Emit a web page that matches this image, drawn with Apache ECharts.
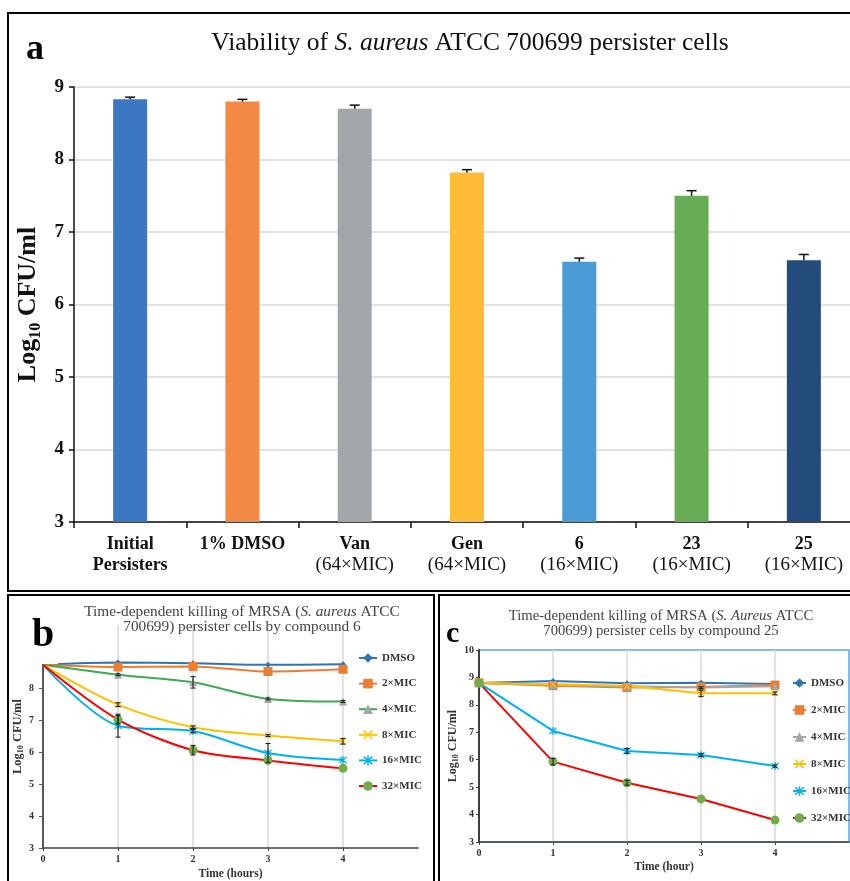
<!DOCTYPE html>
<html><head><meta charset="utf-8">
<script src="https://cdn.jsdelivr.net/npm/echarts@6/dist/echarts.min.js"></script>
<style>html,body{margin:0;padding:0;background:#fff;overflow:hidden}#c{width:870px;height:881px}</style>
</head><body><div id="c"></div>
<script>
const SERIF = "'Liberation Serif','Times New Roman',serif";

// ---------- Panel a data ----------
const categoriesA = ['Initial\nPersisters', '1% DMSO', 'Van\n(64×MIC)', 'Gen\n(64×MIC)', '6\n(16×MIC)', '23\n(16×MIC)', '25\n(16×MIC)'];
const valuesA = [8.83, 8.80, 8.70, 7.82, 6.59, 7.50, 6.61];
const errorsA = [0.03, 0.03, 0.05, 0.04, 0.05, 0.07, 0.08];
const yRangeA = [3, 9];

// ---------- Panel b data (compound 6) ----------
const seriesNames = ['DMSO', '2×MIC', '4×MIC', '8×MIC', '16×MIC', '32×MIC'];
const timeB = [0, 1, 2, 3, 4];
const dmsoB  = [8.75, 8.82, 8.80, 8.75, 8.77];
const mic2B  = [8.75, 8.68, 8.70, 8.54, 8.61];
const mic4B  = [8.75, 8.44, 8.20, 7.68, 7.60];
const mic8B  = [8.75, 7.50, 6.79, 6.53, 6.35];
const mic16B = [8.75, 6.84, 6.67, 5.98, 5.76];
const mic32B = [8.75, 7.03, 6.07, 5.75, 5.50];
const errDmsoB  = [0, 0, 0, 0, 0];
const errMic2B  = [0, 0, 0, 0, 0];
const errMic4B  = [0, 0.03, 0.18, 0.03, 0.03];
const errMic8B  = [0, 0.06, 0.04, 0.03, 0.09];
const errMic16B = [0, 0.36, 0.05, 0.30, 0];
const errMic32B = [0, 0.13, 0.15, 0, 0];

// ---------- Panel c data (compound 25) ----------
const timeC = [0, 1, 2, 3, 4];
const dmsoC  = [8.80, 8.87, 8.79, 8.81, 8.76];
const mic2C  = [8.80, 8.70, 8.63, 8.65, 8.72];
const mic4C  = [8.80, 8.72, 8.68, 8.63, 8.68];
const mic8C  = [8.80, 8.75, 8.70, 8.42, 8.42];
const mic16C = [8.80, 7.05, 6.32, 6.17, 5.77];
const mic32C = [8.80, 5.93, 5.16, 4.57, 3.80];
const errDmsoC  = [0, 0, 0, 0, 0];
const errMic2C  = [0, 0, 0, 0, 0];
const errMic4C  = [0, 0, 0, 0.03, 0];
const errMic8C  = [0, 0, 0, 0.12, 0.05];
const errMic16C = [0, 0, 0.09, 0.05, 0.04];
const errMic32C = [0, 0.12, 0.09, 0, 0];

// ---------- styles ----------
const barColors = ['#3B78C1', '#F28A45', '#A3A6A8', '#FEBC36', '#4A9CD6', '#66AD55', '#224A7B'];
const X_PATH = 'path://M0.5,1.5 L1.5,0.5 L9.5,8.5 L8.5,9.5 Z M8.5,0.5 L9.5,1.5 L1.5,9.5 L0.5,8.5 Z';
const STAR_PATH = 'path://M4.3,0 h1.4 v10 h-1.4 z M0.5,1.5 L1.5,0.5 L9.5,8.5 L8.5,9.5 Z M8.5,0.5 L9.5,1.5 L1.5,9.5 L0.5,8.5 Z';
const styleB = [
  {line:'#2E75B6', item:'#2E75B6', symbol:'diamond', size:6},
  {line:'#ED7D31', item:'#ED7D31', symbol:'rect', size:9},
  {line:'#3CAA50', item:'#A5A5A5', symbol:'triangle', size:8},
  {line:'#FFC000', item:'#FFC000', symbol:X_PATH, size:7},
  {line:'#00B0F0', item:'#00B0F0', symbol:STAR_PATH, size:8},
  {line:'#FF0000', item:'#70AD47', symbol:'circle', size:9}
];
const styleC = [
  {line:'#2E75B6', item:'#2E75B6', symbol:'diamond', size:6},
  {line:'#ED7D31', item:'#ED7D31', symbol:'rect', size:9},
  {line:'#A5A5A5', item:'#A5A5A5', symbol:'triangle', size:8},
  {line:'#FFC000', item:'#FFC000', symbol:X_PATH, size:7},
  {line:'#00B0F0', item:'#00B0F0', symbol:STAR_PATH, size:8},
  {line:'#FF0000', item:'#70AD47', symbol:'circle', size:9}
];
const valsB = [dmsoB, mic2B, mic4B, mic8B, mic16B, mic32B];
const errsB = [errDmsoB, errMic2B, errMic4B, errMic8B, errMic16B, errMic32B];
const valsC = [dmsoC, mic2C, mic4C, mic8C, mic16C, mic32C];
const errsC = [errDmsoC, errMic2C, errMic4C, errMic8C, errMic16C, errMic32C];

function errRender(cap) {
  return function (params, api) {
    const x = api.value(0), y = api.value(1), e = api.value(2);
    if (!e) return null;
    const t = api.coord([x, y + e]), b = api.coord([x, y - e]);
    const st = {stroke:'#222', lineWidth:1.1};
    return {type:'group', children:[
      {type:'line', shape:{x1:t[0], y1:t[1], x2:b[0], y2:b[1]}, style:st},
      {type:'line', shape:{x1:t[0]-cap, y1:t[1], x2:t[0]+cap, y2:t[1]}, style:st},
      {type:'line', shape:{x1:b[0]-cap, y1:b[1], x2:b[0]+cap, y2:b[1]}, style:st}
    ]};
  };
}

const series = [];
// Panel a bars
series.push({
  type:'bar', xAxisIndex:0, yAxisIndex:0, barWidth:34,
  data: valuesA.map((v, i) => ({value:v, itemStyle:{color:barColors[i]}}))
});
series.push({
  type:'custom', xAxisIndex:0, yAxisIndex:0, z:5,
  data: valuesA.map((v, i) => [i, v, errorsA[i]]),
  renderItem: function (params, api) {
    const x = api.value(0), y = api.value(1), e = api.value(2);
    const p = api.coord([x, y]), t = api.coord([x, y + e]);
    const st = {stroke:'#111', lineWidth:1.5};
    return {type:'group', children:[
      {type:'line', shape:{x1:p[0], y1:p[1], x2:t[0], y2:t[1]}, style:st},
      {type:'line', shape:{x1:t[0]-5, y1:t[1], x2:t[0]+5, y2:t[1]}, style:st}
    ]};
  }
});
// Panel b lines
seriesNames.forEach((n, k) => {
  const s = styleB[k];
  series.push({
    name:'b|' + n, type:'line', xAxisIndex:1, yAxisIndex:1, smooth:0.3,
    symbol:s.symbol, symbolSize:s.size, showAllSymbol:true,
    lineStyle:{color:s.line, width:2}, itemStyle:{color:s.item},
    data: valsB[k].map((v, i) => i === 0 ? {value:[timeB[i], v], symbol:'none'} : {value:[timeB[i], v]}),
    z: 3
  });
  series.push({
    type:'custom', xAxisIndex:1, yAxisIndex:1, z:4, renderItem:errRender(2.5),
    data: valsB[k].map((v, i) => [timeB[i], v, errsB[k][i]])
  });
});
// Panel c lines
seriesNames.forEach((n, k) => {
  const s = styleC[k];
  series.push({
    name:'c|' + n, type:'line', xAxisIndex:2, yAxisIndex:2,
    symbol:s.symbol, symbolSize:s.size, showAllSymbol:true,
    lineStyle:{color:s.line, width:2}, itemStyle:{color:s.item},
    data: valsC[k].map((v, i) => [timeC[i], v]),
    z: 3
  });
  series.push({
    type:'custom', xAxisIndex:2, yAxisIndex:2, z:4, renderItem:errRender(2.5),
    data: valsC[k].map((v, i) => [timeC[i], v, errsC[k][i]])
  });
});

const smallLabel = {fontFamily:SERIF, fontWeight:'bold', fontSize:10, color:'#333'};
const legendText = {fontFamily:SERIF, fontWeight:'bold', fontSize:11, color:'#333', lineHeight:12};

const option = {
  animation:false,
  backgroundColor:'#fff',
  title:[
    {left:470, top:29, textAlign:'center', padding:0,
     text:'Viability of {i|S. aureus} ATCC 700699 persister cells',
     textStyle:{fontFamily:SERIF, fontSize:25.5, fontWeight:'normal', color:'#111', lineHeight:28,
       rich:{i:{fontFamily:SERIF, fontSize:25.5, fontStyle:'italic', color:'#111', lineHeight:28}}}},
    {left:242, top:604, textAlign:'center', padding:0,
     text:'Time-dependent killing of MRSA ({i|S. aureus} ATCC\n700699) persister cells by compound 6',
     textStyle:{fontFamily:SERIF, fontSize:15.3, fontWeight:'normal', color:'#444', lineHeight:15, align:'center',
       rich:{i:{fontFamily:SERIF, fontSize:15.3, fontStyle:'italic', color:'#444', lineHeight:15}}}},
    {left:661, top:609, textAlign:'center', padding:0,
     text:'Time-dependent killing of MRSA ({i|S. Aureus} ATCC\n700699) persister cells by compound 25',
     textStyle:{fontFamily:SERIF, fontSize:14.7, fontWeight:'normal', color:'#444', lineHeight:15, align:'center',
       rich:{i:{fontFamily:SERIF, fontSize:14.7, fontStyle:'italic', color:'#444', lineHeight:15}}}}
  ],
  legend:[
    {left:358, top:652, orient:'vertical', itemWidth:18, itemHeight:12, itemGap:13.6, padding:0,
     selectedMode:false, data:seriesNames.map(n => 'b|' + n), formatter:n => n.split('|')[1], textStyle:legendText},
    {left:792, top:677, orient:'vertical', itemWidth:13, itemHeight:12, itemGap:15, padding:0,
     selectedMode:false, data:seriesNames.map(n => 'c|' + n), formatter:n => n.split('|')[1], textStyle:legendText}
  ],
  grid:[
    {left:74, top:87, width:786, height:435},
    {left:43, top:625, width:375, height:224},
    {left:479, top:650, width:370, height:192, show:true, borderColor:'#5DA5DD', borderWidth:1.5, backgroundColor:'transparent'}
  ],
  xAxis:[
    {type:'category', gridIndex:0, data:categoriesA,
     axisLine:{lineStyle:{color:'#111', width:1.5}},
     axisTick:{show:true, length:6, lineStyle:{color:'#111', width:1.5}},
     axisLabel:{margin:12, interval:0,
       formatter:v => v.split('\n').map((s, i) => (i > 0 && s[0] === '(') ? '{r|' + s + '}' : '{b|' + s + '}').join('\n'),
       rich:{b:{fontFamily:SERIF, fontWeight:'bold', fontSize:18, lineHeight:21, color:'#111'},
             r:{fontFamily:SERIF, fontWeight:'normal', fontSize:19, lineHeight:21, color:'#111'}}}},
    {type:'value', gridIndex:1, min:0, max:5, interval:1,
     name:'Time (hours)', nameLocation:'middle', nameGap:20,
     nameTextStyle:{fontFamily:SERIF, fontWeight:'bold', fontSize:11.5, color:'#333'},
     axisLine:{lineStyle:{color:'#404040', width:1.5}},
     axisTick:{show:true, length:3, lineStyle:{color:'#404040'}},
     axisLabel:Object.assign({margin:6, showMaxLabel:false}, smallLabel),
     splitLine:{show:true, showMinLine:false, showMaxLine:false, lineStyle:{color:'#D9D9D9', width:1.5}}},
    {type:'value', gridIndex:2, min:0, max:5, interval:1,
     name:'Time (hour)', nameLocation:'middle', nameGap:19,
     nameTextStyle:{fontFamily:SERIF, fontWeight:'bold', fontSize:11.5, color:'#333'},
     axisLine:{lineStyle:{color:'#404040', width:1.5}},
     axisTick:{show:true, length:3, lineStyle:{color:'#404040'}},
     axisLabel:Object.assign({margin:6, showMaxLabel:false}, smallLabel),
     splitLine:{show:true, showMinLine:false, showMaxLine:false, lineStyle:{color:'#D9D9D9', width:1.5}}}
  ],
  yAxis:[
    {type:'value', gridIndex:0, min:yRangeA[0], max:yRangeA[1], interval:1,
     name:'{m|Log}{s|10}{m| CFU/ml}', nameLocation:'middle', nameRotate:90, nameGap:26,
     nameTextStyle:{rich:{
       m:{fontFamily:SERIF, fontWeight:'bold', fontSize:26, color:'#111', lineHeight:30},
       s:{fontFamily:SERIF, fontWeight:'bold', fontSize:16, color:'#111', lineHeight:16, verticalAlign:'bottom'}}},
     axisLine:{show:true, lineStyle:{color:'#111', width:1.5}},
     axisTick:{show:true, length:5, lineStyle:{color:'#111', width:1.5}},
     axisLabel:{margin:10, fontFamily:SERIF, fontWeight:'bold', fontSize:19, color:'#111'},
     splitLine:{show:true, lineStyle:{color:'#D9D9D9', width:1.5}}},
    {type:'value', gridIndex:1, min:3, max:10, interval:1,
     name:'{m|Log}{s|10}{m| CFU/ml}', nameLocation:'middle', nameRotate:90, nameGap:17,
     nameTextStyle:{rich:{
       m:{fontFamily:SERIF, fontWeight:'bold', fontSize:12.5, color:'#333', lineHeight:15},
       s:{fontFamily:SERIF, fontWeight:'bold', fontSize:8, color:'#333', lineHeight:8, verticalAlign:'bottom'}}},
     axisLine:{show:true, lineStyle:{color:'#595959', width:2}},
     axisTick:{show:true, length:4, lineStyle:{color:'#595959'}},
     axisLabel:Object.assign({margin:9, formatter:v => v >= 9 ? '' : String(v)}, smallLabel),
     splitLine:{show:false}},
    {type:'value', gridIndex:2, min:3, max:10, interval:1,
     name:'{m|Log}{s|10}{m| CFU/ml}', nameLocation:'middle', nameRotate:90, nameGap:19,
     nameTextStyle:{rich:{
       m:{fontFamily:SERIF, fontWeight:'bold', fontSize:12, color:'#333', lineHeight:15},
       s:{fontFamily:SERIF, fontWeight:'bold', fontSize:8, color:'#333', lineHeight:8, verticalAlign:'bottom'}}},
     axisLine:{show:true, lineStyle:{color:'#404040', width:2}},
     axisTick:{show:true, length:3, lineStyle:{color:'#404040'}},
     axisLabel:Object.assign({margin:5}, smallLabel),
     splitLine:{show:false}}
  ],
  graphic:[
    {type:'rect', zlevel:1, z:100, shape:{x:12, y:598, width:46, height:66}, style:{fill:'#fff'}},
    {type:'rect', zlevel:1, z:101, shape:{x:8, y:13, width:880, height:578}, style:{fill:'none', stroke:'#000', lineWidth:2}},
    {type:'rect', zlevel:1, z:101, shape:{x:8, y:595, width:426, height:300}, style:{fill:'none', stroke:'#000', lineWidth:2}},
    {type:'rect', zlevel:1, z:101, shape:{x:439, y:595, width:440, height:300}, style:{fill:'none', stroke:'#000', lineWidth:2}},
    {type:'text', zlevel:1, z:102, x:26, y:50, style:{text:'a', font:'bold 36px ' + SERIF, fill:'#000', verticalAlign:'middle', textVerticalAlign:'middle'}},
    {type:'text', zlevel:1, z:102, x:32, y:636, style:{text:'b', font:'bold 40px ' + SERIF, fill:'#000', verticalAlign:'middle', textVerticalAlign:'middle'}},
    {type:'text', zlevel:1, z:102, x:446, y:634, style:{text:'c', font:'bold 30px ' + SERIF, fill:'#000', verticalAlign:'middle', textVerticalAlign:'middle'}}
  ],
  series: series
};

const chart = echarts.init(document.getElementById('c'), null, {renderer:'canvas'});
chart.setOption(option);
</script>
</body></html>
